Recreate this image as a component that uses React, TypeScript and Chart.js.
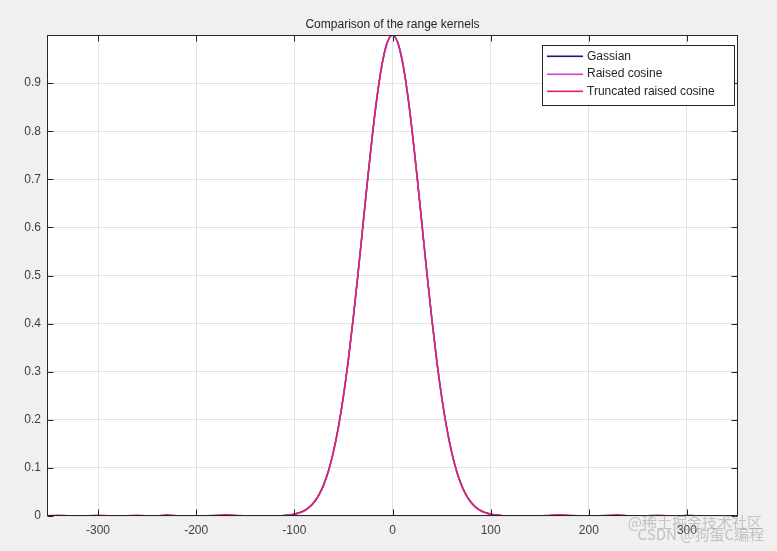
import React, { useEffect, useRef } from "react";
import { Chart, registerables } from "chart.js";

Chart.register(...registerables);

// x sample positions (kernel argument)
const xs = [
  -352, -340, -330, -320, -310, -300, -290, -280, -270, -260, -250, -240, -230, -220, -210, -200,
  -190, -180, -170, -160, -150, -140, -130, -120, -115, -110, -105, -100, -95, -90, -85, -80, -75,
  -70, -65, -60, -55, -50, -45, -40, -35, -30, -25, -20, -15, -10, -5, 0, 5, 10, 15, 20, 25, 30, 35,
  40, 45, 50, 55, 60, 65, 70, 75, 80, 85, 90, 95, 100, 105, 110, 115, 120, 130, 140, 150, 160, 170,
  180, 190, 200, 210, 220, 230, 240, 250, 260, 270, 280, 290, 300, 310, 320, 330, 340, 352,
];

const gaussian = [
  0, 0, 0, 0, 0, 0, 0, 0, 0, 0, 0, 0, 0, 0, 0, 0,
  0, 0, 0, 0, 0, 0, 0.0001, 0.0003, 0.0006, 0.0012, 0.0022, 0.0039, 0.0066, 0.0111, 0.0181, 0.0286, 0.0439,
  0.0657, 0.0956, 0.1353, 0.1862, 0.2494, 0.3247, 0.4111, 0.5063, 0.6065, 0.7066, 0.8007, 0.8825, 0.946, 0.9862, 1, 0.9862, 0.946, 0.8825, 0.8007, 0.7066, 0.6065, 0.5063,
  0.4111, 0.3247, 0.2494, 0.1862, 0.1353, 0.0956, 0.0657, 0.0439, 0.0286, 0.0181, 0.0111, 0.0066, 0.0039, 0.0022, 0.0012, 0.0006, 0.0003, 0.0001, 0, 0, 0, 0,
  0, 0, 0, 0, 0, 0, 0, 0, 0, 0, 0, 0, 0, 0, 0,
];

const raisedCosine = [
  0, 0, 0, 0, 0, 0, 0, 0, 0, 0, 0, 0, 0, 0, 0, 0,
  0, 0, 0, 0, 0, 0, 0.0001, 0.0002, 0.0005, 0.001, 0.0019, 0.0035, 0.0061, 0.0104, 0.0172, 0.0276, 0.0428,
  0.0645, 0.0944, 0.1342, 0.1853, 0.2487, 0.3242, 0.4108, 0.5062, 0.6065, 0.7067, 0.8009, 0.8826, 0.9461, 0.9862, 1, 0.9862, 0.9461, 0.8826, 0.8009, 0.7067, 0.6065, 0.5062,
  0.4108, 0.3242, 0.2487, 0.1853, 0.1342, 0.0944, 0.0645, 0.0428, 0.0276, 0.0172, 0.0104, 0.0061, 0.0035, 0.0019, 0.001, 0.0005, 0.0002, 0.0001, 0, 0, 0, 0,
  0, 0, 0, 0, 0, 0, 0, 0, 0, 0, 0, 0, 0, 0, 0,
];

const truncatedRaisedCosine = [
  0.001, 0.002, 0.001, 0, 0.001, 0.002, 0.001, 0, 0.001, 0.002, 0.001, 0.0005, 0.003, 0.001, 0, 0,
  0.001, 0.002, 0.003, 0.002, 0.0005, 0, 0.0002, 0.0004, 0.0007, 0.0013, 0.0023, 0.004, 0.0067, 0.0112, 0.0182, 0.0287, 0.044,
  0.0658, 0.0957, 0.1354, 0.1863, 0.2495, 0.3248, 0.4112, 0.5064, 0.6066, 0.7067, 0.8008, 0.8826, 0.9461, 0.9862, 1, 0.9862, 0.9461, 0.8826, 0.8008, 0.7067, 0.6066, 0.5064,
  0.4112, 0.3248, 0.2495, 0.1863, 0.1354, 0.0957, 0.0658, 0.044, 0.0287, 0.0182, 0.0112, 0.0067, 0.004, 0.0023, 0.0013, 0.0007, 0.0004, 0.0002, 0, 0.0005, 0.002, 0.003,
  0.002, 0.001, 0, 0.001, 0.002, 0.003, 0.001, 0, 0.001, 0.002, 0.001, 0, 0.002, 0.001,
];

const seriesLabels = ["Gassian", "Raised cosine", "Truncated raised cosine"];
const seriesColors = ["#1c1c78", "#d23cd2", "#e0245a"];
const seriesWidths = [1.6, 1.5, 1.2];
const xTickValues = [-300, -200, -100, 0, 100, 200, 300];
const yTickValues = [0, 0.1, 0.2, 0.3, 0.4, 0.5, 0.6, 0.7, 0.8, 0.9];
const titleText = "Comparison of the range kernels";
const watermark1 = "@稀土掘金技术社区";
const watermark2 = "CSDN @狗蛋C编程";

const FONT = "'Liberation Sans', Arial, Helvetica, sans-serif";

export default function App() {
  const ref = useRef<HTMLCanvasElement | null>(null);

  useEffect(() => {
    document.body.style.margin = "0";
    const canvas = ref.current;
    if (!canvas) return;

    const pts = (ys: number[]) => xs.map((x, i) => ({ x, y: ys[i] }));

    const bgPlugin = {
      id: "bg",
      beforeDraw(chart: any) {
        const { ctx, chartArea: a } = chart;
        ctx.save();
        ctx.fillStyle = "#f0f0f0";
        ctx.fillRect(0, 0, chart.width, chart.height);
        ctx.fillStyle = "#ffffff";
        ctx.fillRect(a.left, a.top, a.right - a.left, a.bottom - a.top);
        ctx.restore();
      },
    };

    const framePlugin = {
      id: "frame",
      afterDraw(chart: any) {
        const { ctx, chartArea: a, scales } = chart;
        ctx.save();
        // title
        ctx.fillStyle = "#262626";
        ctx.font = `12px ${FONT}`;
        ctx.textAlign = "center";
        ctx.textBaseline = "middle";
        ctx.fillText(titleText, (a.left + a.right) / 2, 25);

        // box
        ctx.strokeStyle = "#262626";
        ctx.lineWidth = 1;
        const L = Math.round(a.left) + 0.5;
        const R = Math.round(a.right) - 0.5;
        const T = Math.round(a.top) + 0.5;
        const B = Math.round(a.bottom) - 0.5;
        ctx.strokeRect(L, T, R - L, B - T);
        // inward ticks
        const tl = 6;
        ctx.beginPath();
        xTickValues.forEach((v) => {
          const px = Math.round(scales.x.getPixelForValue(v)) + 0.5;
          ctx.moveTo(px, B);
          ctx.lineTo(px, B - tl);
          ctx.moveTo(px, T);
          ctx.lineTo(px, T + tl);
        });
        yTickValues.forEach((v) => {
          const py = Math.round(scales.y.getPixelForValue(v)) + 0.5;
          ctx.moveTo(L, py);
          ctx.lineTo(L + tl, py);
          ctx.moveTo(R, py);
          ctx.lineTo(R - tl, py);
        });
        ctx.stroke();

        // legend
        const bx = 542.5, by = 45.5, bw = 192, bh = 60;
        ctx.fillStyle = "#ffffff";
        ctx.fillRect(bx, by, bw, bh);
        ctx.strokeStyle = "#262626";
        ctx.lineWidth = 1;
        ctx.strokeRect(bx, by, bw, bh);
        const rows = [56, 73.5, 91];
        chart.data.datasets.forEach((ds: any, i: number) => {
          ctx.fillStyle = seriesColors[i];
          ctx.fillRect(547, Math.round(rows[i]) - 0.5, 36, 1.6);
          ctx.fillStyle = "#262626";
          ctx.font = `12px ${FONT}`;
          ctx.textAlign = "left";
          ctx.textBaseline = "middle";
          ctx.fillText(ds.label, 587, rows[i] + 0.5);
        });

        // watermark
        ctx.font = `15px 'Noto Sans CJK SC', sans-serif`;
        ctx.fillStyle = "rgba(150,150,150,0.5)";
        ctx.textAlign = "right";
        ctx.fillText(watermark1, 762, 522);
        ctx.fillText(watermark2, 764, 534);
        ctx.restore();
      },
    };

    const chart = new Chart(canvas, {
      type: "line",
      data: {
        datasets: seriesLabels.map((label, i) => ({
          label,
          data: pts([gaussian, raisedCosine, truncatedRaisedCosine][i]),
          borderColor: seriesColors[i],
          backgroundColor: seriesColors[i],
          borderWidth: seriesWidths[i],
          pointRadius: 0,
          cubicInterpolationMode: "monotone" as const,
          fill: false,
          order: 3 - i,
        })),
      },
      options: {
        animation: false,
        responsive: false,
        devicePixelRatio: 1,
        layout: { padding: { left: 0, right: 39, top: 35, bottom: 0 } },
        plugins: {
          legend: { display: false },
          title: { display: false },
          tooltip: { enabled: false },
        },
        scales: {
          x: {
            type: "linear",
            min: -352,
            max: 352,
            afterBuildTicks(scale: any) {
              scale.ticks = xTickValues.map((v) => ({ value: v }));
            },
            afterFit(scale: any) {
              scale.height = 35;
            },
            ticks: {
              padding: 7,
              color: "#404040",
              font: { family: FONT, size: 12 },
              maxRotation: 0,
              callback: (v: any) => String(v),
            },
            grid: { color: "#e2e2e2", lineWidth: 1, drawTicks: false },
            border: { display: false },
          },
          y: {
            type: "linear",
            min: 0,
            max: 1,
            afterBuildTicks(scale: any) {
              scale.ticks = yTickValues.map((v) => ({ value: v }));
            },
            afterFit(scale: any) {
              scale.width = 47;
            },
            ticks: {
              padding: 6,
              color: "#404040",
              font: { family: FONT, size: 12 },
              callback: (v: any) => (Number(v) === 0 ? "0" : Number(v).toFixed(1)),
            },
            grid: { color: "#e2e2e2", lineWidth: 1, drawTicks: false },
            border: { display: false },
          },
        },
      },
      plugins: [bgPlugin, framePlugin],
    });

    return () => chart.destroy();
  }, []);

  return (
    <div style={{ width: 777, height: 551, background: "#f0f0f0" }}>
      <canvas ref={ref} width={777} height={551} style={{ display: "block" }} />
    </div>
  );
}
